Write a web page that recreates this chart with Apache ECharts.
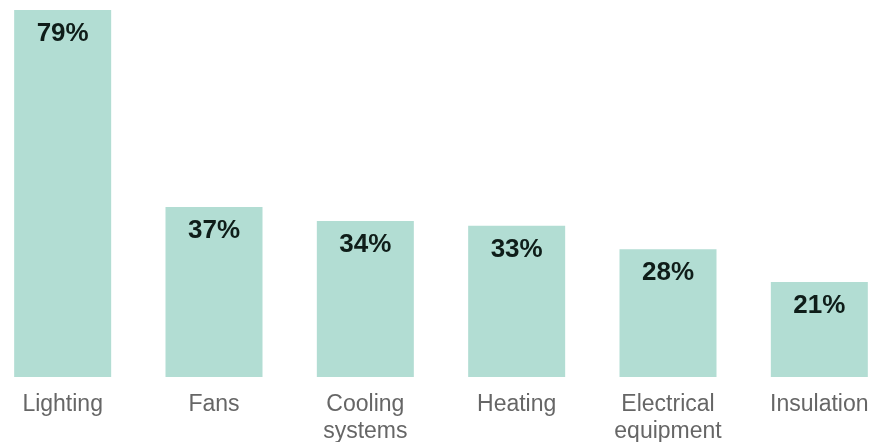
<!DOCTYPE html>
<html>
<head>
<meta charset="utf-8">
<style>
  html, body { margin: 0; padding: 0; background: #ffffff; overflow: hidden; }
  body { width: 871px; height: 442px; position: relative; }
  /* the plot runs a little past both page edges so the outer bars sit close to them */
  #chart { position: absolute; left: -13px; top: 0; width: 908px; height: 442px; }
</style>
<script src="https://cdn.jsdelivr.net/npm/echarts@6/dist/echarts.min.js"></script>
</head>
<body>
<div id="chart"></div>
<script>
// Share of respondents per energy-efficiency measure (%)
const categories = ['Lighting', 'Fans', 'Cooling\nsystems', 'Heating', 'Electrical\nequipment', 'Insulation'];
const shares = [79, 37, 34, 33, 28, 21];

const chart = echarts.init(document.getElementById('chart'), null, { renderer: 'canvas' });

chart.setOption({
  animation: false,
  textStyle: { fontFamily: '"Liberation Sans", Arial, sans-serif' },
  grid: { left: 0, right: 0, top: 10, bottom: 65, containLabel: false, outerBoundsMode: 'none' },
  xAxis: {
    type: 'category',
    data: categories,
    axisLine: { show: false },
    axisTick: { show: false },
    axisLabel: {
      color: '#666666',
      fontSize: 23,
      lineHeight: 27,
      margin: 14,
      interval: 0
    }
  },
  yAxis: {
    type: 'value',
    min: 0.75,
    max: 79,
    show: false,
    splitLine: { show: false }
  },
  series: [{
    type: 'bar',
    data: shares,
    barWidth: 97,
    itemStyle: { color: '#b2ddd3' },
    label: {
      show: true,
      position: 'insideTop',
      distance: 11,
      formatter: '{c}%',
      color: '#0f1d19',
      fontSize: 26,
      fontWeight: 'bold'
    }
  }]
});
</script>
</body>
</html>
